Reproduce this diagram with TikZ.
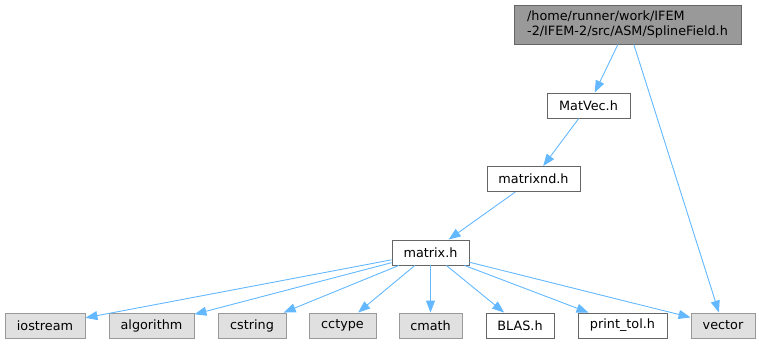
\documentclass[tikz,border=0pt]{standalone}
\usepackage{fontspec}
\setmainfont{DejaVu Sans}
\usetikzlibrary{arrows.meta}
\definecolor{edgeblue}{HTML}{63B8FF}
\definecolor{boxgray}{HTML}{E0E0E0}
\definecolor{rootgray}{HTML}{999999}
\begin{document}
\begin{tikzpicture}[x=1pt,y=-1pt,
    font=\fontsize{12.8}{14.5}\selectfont,
    file/.style={draw=black!60,fill=white,line width=0.9pt,minimum height=25pt,inner sep=0pt},
    sys/.style={draw=rootgray,fill=boxgray,line width=0.9pt,minimum height=25pt,inner sep=0pt},
    inc/.style={draw=edgeblue,line width=0.9pt,-{Triangle[length=12pt,width=9pt]}}]
\useasboundingbox (0,0) rectangle (759,344);
% top file
\node[draw=black!60,fill=rootgray,line width=0.9pt,minimum width=227pt,minimum height=39pt,
      align=left,inner sep=0pt] (spline) at (627.5,24.5)
      {/home/runner/work/IFEM\\-2/IFEM-2/src/ASM/SplineField.h};
\node[file,minimum width=83pt] (matvec)   at (588.5,105.5) {MatVec.h};
\node[file,minimum width=93pt] (matrixnd) at (533.5,179)   {matrixnd.h};
\node[file,minimum width=77pt] (matrix)   at (430.5,252.5) {matrix.h};
% bottom row
\node[sys,minimum width=80pt]  (iostream)  at (45,325.5)    {iostream};
\node[sys,minimum width=85pt]  (algorithm) at (151.5,325.5) {algorithm};
\node[sys,minimum width=68pt]  (cstring)   at (252,325.5)   {cstring};
\node[sys,minimum width=67pt]  (cctype)    at (342.5,325.5) {cctype};
\node[sys,minimum width=63pt]  (cmath)     at (430.5,325.5) {cmath};
\node[file,minimum width=68pt] (blas)      at (520,325.5)   {BLAS.h};
\node[file,minimum width=89pt] (printtol)  at (622.5,325.5) {print\_tol.h};
\node[sys,minimum width=64pt]  (vector)    at (723,325.5)   {vector};
% includes
\draw[inc] (spline) -- (matvec);
\draw[inc] (spline) -- (vector);
\draw[inc] (matvec) -- (matrixnd);
\draw[inc] (matrixnd) -- (matrix);
\foreach \t in {iostream,algorithm,cstring,cctype,cmath,blas,printtol,vector}
    \draw[inc] (matrix) -- (\t);
\end{tikzpicture}
\end{document}
